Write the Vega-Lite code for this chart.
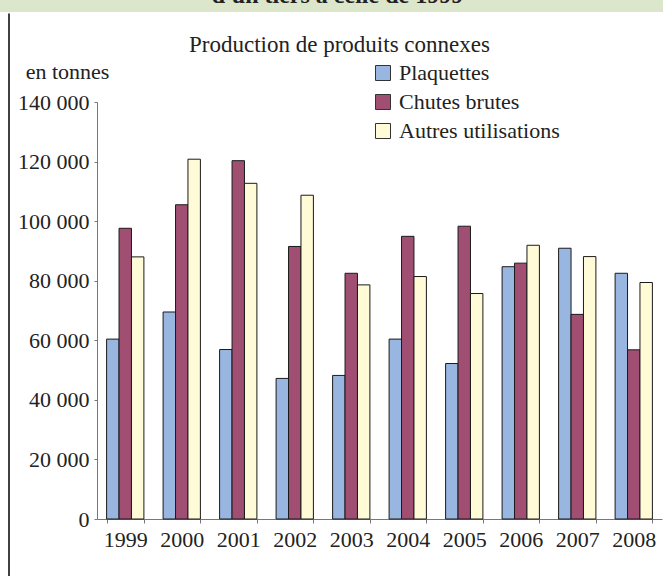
{
  "$schema": "https://vega.github.io/schema/vega-lite/v6.json",
  "padding": 0,
  "background": "white",
  "config": {
    "concat": {"spacing": 0},
    "view": {"stroke": null},
    "font": "Liberation Serif, Times New Roman, serif",
    "legend": {"labelFont": "Liberation Serif, Times New Roman, serif", "labelLimit": 400},
    "axis": {"labelFont": "Liberation Serif, Times New Roman, serif", "titleFont": "Liberation Serif, Times New Roman, serif"},
    "title": {"font": "Liberation Serif, Times New Roman, serif"}
  },
  "vconcat": [
    {
      "width": 663,
      "height": 12,
      "view": {"fill": "#dbe6cb", "stroke": null},
      "data": {"values": [{"t": "d'un tiers à celle de 1999"}]},
      "mark": {"type": "text", "clip": true, "font": "Liberation Serif, Times New Roman, serif", "fontWeight": "bold", "fontSize": 24, "baseline": "alphabetic", "dy": -3, "dx": 6, "color": "#222"},
      "encoding": {"text": {"field": "t"}}
    },
    {
      "spacing": 7,
      "hconcat": [
        {
          "width": 9,
          "height": 417,
          "data": {"values": [{"v": 1}]},
          "mark": {"type": "rule", "color": "#000", "strokeWidth": 1.5},
          "encoding": {
            "x": {"datum": 1, "type": "quantitative", "scale": {"domain": [0, 1], "nice": false, "zero": false}, "axis": null},
            "y": {"datum": 1.212, "type": "quantitative", "scale": {"domain": [0, 1], "nice": false, "zero": false, "clamp": false}, "axis": null},
            "y2": {"datum": -0.14}
          }
        },
        {
          "vconcat": [
            {
              "width": 565,
              "height": 417,
              "title": {"text": ["", "Production de produits connexes"], "fontSize": 23, "font": "Liberation Serif, Times New Roman, serif", "fontWeight": "normal", "color": "#222", "lineHeight": 21, "anchor": "middle", "offset": 3, "dx": -40},
              "data": {"values": [
                {"annee": "1999", "type": "Plaquettes", "valeur": 60400},
                {"annee": "1999", "type": "Chutes brutes", "valeur": 97600},
                {"annee": "1999", "type": "Autres utilisations", "valeur": 88000},
                {"annee": "2000", "type": "Plaquettes", "valeur": 69500},
                {"annee": "2000", "type": "Chutes brutes", "valeur": 105500},
                {"annee": "2000", "type": "Autres utilisations", "valeur": 120800},
                {"annee": "2001", "type": "Plaquettes", "valeur": 56900},
                {"annee": "2001", "type": "Chutes brutes", "valeur": 120300},
                {"annee": "2001", "type": "Autres utilisations", "valeur": 112700},
                {"annee": "2002", "type": "Plaquettes", "valeur": 47200},
                {"annee": "2002", "type": "Chutes brutes", "valeur": 91500},
                {"annee": "2002", "type": "Autres utilisations", "valeur": 108700},
                {"annee": "2003", "type": "Plaquettes", "valeur": 48200},
                {"annee": "2003", "type": "Chutes brutes", "valeur": 82500},
                {"annee": "2003", "type": "Autres utilisations", "valeur": 78600},
                {"annee": "2004", "type": "Plaquettes", "valeur": 60400},
                {"annee": "2004", "type": "Chutes brutes", "valeur": 94900},
                {"annee": "2004", "type": "Autres utilisations", "valeur": 81400},
                {"annee": "2005", "type": "Plaquettes", "valeur": 52200},
                {"annee": "2005", "type": "Chutes brutes", "valeur": 98300},
                {"annee": "2005", "type": "Autres utilisations", "valeur": 75700},
                {"annee": "2006", "type": "Plaquettes", "valeur": 84700},
                {"annee": "2006", "type": "Chutes brutes", "valeur": 85900},
                {"annee": "2006", "type": "Autres utilisations", "valeur": 91900},
                {"annee": "2007", "type": "Plaquettes", "valeur": 90900},
                {"annee": "2007", "type": "Chutes brutes", "valeur": 68700},
                {"annee": "2007", "type": "Autres utilisations", "valeur": 88100},
                {"annee": "2008", "type": "Plaquettes", "valeur": 82500},
                {"annee": "2008", "type": "Chutes brutes", "valeur": 56800},
                {"annee": "2008", "type": "Autres utilisations", "valeur": 79400}
              ]},
              "mark": {"type": "bar", "stroke": "#1a1a1a", "strokeWidth": 1},
              "encoding": {
                "x": {
                  "field": "annee", "type": "nominal",
                  "scale": {"paddingInner": 0.34, "paddingOuter": 0.17},
                  "axis": {"title": null, "labelAngle": 0, "labelFontSize": 22, "labelFont": "Liberation Serif, Times New Roman, serif", "labelColor": "#222", "tickBand": "extent", "tickSize": 4, "labelPadding": 6, "domainColor": "#777", "tickColor": "#777"}
                },
                "xOffset": {
                  "field": "type", "type": "nominal",
                  "sort": ["Plaquettes", "Chutes brutes", "Autres utilisations"],
                  "scale": {"paddingInner": 0, "paddingOuter": 0}
                },
                "y": {
                  "field": "valeur", "type": "quantitative",
                  "scale": {"domain": [0, 140000], "nice": false},
                  "axis": {
                    "title": "en tonnes", "titleAngle": 0, "titleX": -30, "titleY": -24, "titleAlign": "center", "titleBaseline": "alphabetic",
                    "titleFontSize": 22, "titleFontWeight": "normal", "titleColor": "#222", "titleFont": "Liberation Serif, Times New Roman, serif",
                    "values": [0, 20000, 40000, 60000, 80000, 100000, 120000, 140000],
                    "labelExpr": "replace(format(datum.value, ','), regexp(',', 'g'), ' ')",
                    "labelFontSize": 22, "labelFont": "Liberation Serif, Times New Roman, serif", "labelColor": "#222", "labelPadding": 5,
                    "tickSize": 3, "tickColor": "#777", "domainColor": "#777", "grid": false
                  }
                },
                "color": {
                  "field": "type", "type": "nominal",
                  "sort": ["Plaquettes", "Chutes brutes", "Autres utilisations"],
                  "scale": {"domain": ["Plaquettes", "Chutes brutes", "Autres utilisations"], "range": ["#98b6e0", "#a04f73", "#fffbd6"]},
                  "legend": {
                    "title": null, "orient": "none", "legendX": 372, "legendY": 62,
                    "symbolType": "square", "symbolSize": 225, "symbolStrokeColor": "#333", "symbolStrokeWidth": 1, "symbolOpacity": 1,
                    "labelFontSize": 22, "labelFont": "Liberation Serif, Times New Roman, serif", "labelLimit": 400, "labelColor": "#222", "rowPadding": 7, "labelOffset": 5
                  }
                }
              }
            }
          ]
        }
      ]
    }
  ]
}
